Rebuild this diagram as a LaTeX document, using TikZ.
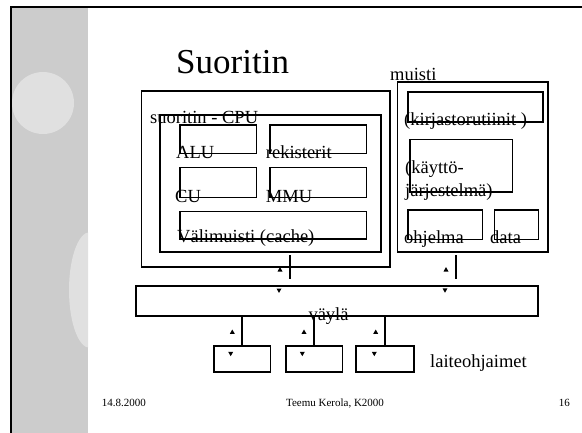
\documentclass[tikz,border=0pt]{standalone}
\usepackage{fontspec}
\setmainfont{Liberation Serif}
\tikzset{
  box/.style={draw, line width=1.6pt, inner sep=0pt, outer sep=0pt},
  lbl/.style={anchor=base west, inner sep=0pt, font=\fontsize{18.5}{20}\selectfont},
  foot/.style={anchor=base, inner sep=0pt, font=\fontsize{11}{13}\selectfont},
  link/.style={line width=1.6pt}
}
\def\upmark(#1,#2){\fill[shift={(#1,#2)}] (-2.5,2.2) -- (2.5,2.2) -- (0,-2.2) -- cycle;}
\def\downmark(#1,#2){\fill[shift={(#1,#2)}] (-2.5,-2.2) -- (2.5,-2.2) -- (0,2.2) -- cycle;}

\begin{document}
\begin{tikzpicture}[x=1pt, y=-1pt]
  \useasboundingbox (0,0) rectangle (582,432);

  %%%%% background strip %%%%%
  \fill[black!20] (11,7) rectangle (88,440);
  \fill[black!12] (43,103) circle (31);
  \begin{scope}
    \clip (11,7) rectangle (88,440);
    \fill[black!12] (90,290) ellipse (21 and 58);
  \end{scope}
  \draw[line width=1.6pt] (11,440) -- (11,7) -- (590,7);

  %%%%% title %%%%%
  \node[anchor=base west, inner sep=0pt, font=\fontsize{35}{40}\selectfont] (title) at (176,73) {Suoritin};

  %%%%% suoritin %%%%%
  \node[box, minimum width=248.3pt, minimum height=176pt] (cpu) at (265.8,179) {};
  \node[box, minimum width=221pt, minimum height=137pt] (core) at (270.5,183.5) {};
  \node[box, minimum width=76.7pt, minimum height=28.3pt] (alu) at (218.3,139.2) {};
  \node[box, minimum width=96.7pt, minimum height=28.3pt] (reg) at (318.3,139.2) {};
  \node[box, minimum width=76.7pt, minimum height=30pt] (cu) at (218.3,182.3) {};
  \node[box, minimum width=96.7pt, minimum height=30pt] (mmu) at (318.3,182.3) {};
  \node[box, minimum width=186.7pt, minimum height=27.3pt] (cache) at (273.3,225.3) {};

  \node[lbl] (coretxt) at (150,123.3) {suoritin - CPU};
  \node[lbl] (alutxt) at (176,158.3) {ALU};
  \node[lbl] (regtxt) at (265.7,158.3) {rekisterit};
  \node[lbl] (cutxt) at (175,202) {CU};
  \node[lbl] (mmutxt) at (265.7,202) {MMU};
  \node[lbl] (cachetxt) at (177,242) {Välimuisti (cache)};

  %%%%% muisti %%%%%
  \node[box, minimum width=150.3pt, minimum height=170pt] (mem) at (472.8,166.7) {};
  \node[box, minimum width=135pt, minimum height=30pt] (lib) at (475.2,106.7) {};
  \node[box, minimum width=102.7pt, minimum height=52.4pt] (os) at (461.3,165.5) {};
  \node[box, minimum width=74.6pt, minimum height=29.3pt] (prog) at (445,224.7) {};
  \node[box, minimum width=44pt, minimum height=29.3pt] (data) at (516.3,224.7) {};

  \node[lbl] (memtxt) at (390,80) {muisti};
  \node[lbl] (libtxt) at (404,125.7) {(kirjastorutiinit )};
  \node[lbl] (ostxt) at (405,173.3) {(käyttö-};
  \node[lbl] (ostxtb) at (405,196.7) {järjestelmä)};
  \node[lbl] (progtxt) at (404,243.3) {ohjelma};
  \node[lbl] (datatxt) at (490,243.3) {data};

  %%%%% vayla %%%%%
  \node[box, minimum width=402pt, minimum height=30pt] (bus) at (336.7,300.7) {};
  \node[lbl] (bustxt) at (308.3,320) {väylä};

  \coordinate (cpuA) at (290,255);
  \coordinate (cpuB) at (290,279);
  \coordinate (memA) at (456,255);
  \coordinate (memB) at (456,279);
  \draw[link] (cpuA) -- (cpuB);
  \draw[link] (memA) -- (memB);
  \upmark(280,269.3)
  \downmark(279,290.7)
  \upmark(446,269.3)
  \downmark(445,290.5)

  %%%%% laiteohjaimet %%%%%
  \node[box, minimum width=56.3pt, minimum height=26pt] (dev1) at (242.2,358.7) {};
  \node[box, minimum width=56.6pt, minimum height=26pt] (dev2) at (314,358.7) {};
  \node[box, minimum width=58pt, minimum height=26pt] (dev3) at (385,358.7) {};
  \foreach \d in {dev1,dev2,dev3}
    \draw[link] (\d.north) -- (\d.north |- bus.south);
  \upmark(232.3,331.7)
  \upmark(304,331.7)
  \upmark(375.7,331.7)
  \downmark(230.7,354)
  \downmark(302.3,354)
  \downmark(374.3,354)
  \node[lbl] (devtxt) at (430,367.3) {laiteohjaimet};

  %%%%% footer %%%%%
  \node[foot, anchor=base west] (date) at (101.7,406.7) {14.8.2000};
  \node[foot] (author) at (335,406.7) {Teemu Kerola, K2000};
  \node[foot, anchor=base east] (page) at (570,406.7) {16};
\end{tikzpicture}
\end{document}
